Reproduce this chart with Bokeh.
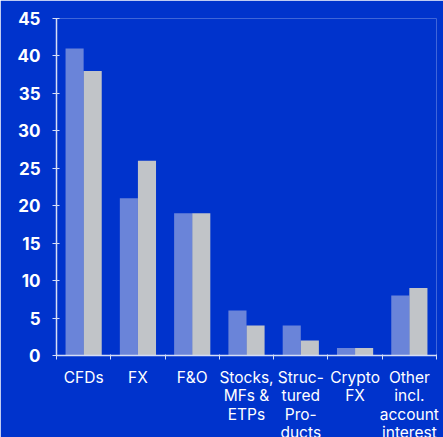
from bokeh.plotting import figure
from bokeh.models import FixedTicker, ColumnDataSource
from bokeh.embed import file_html
from bokeh.resources import INLINE

categories = ["CFDs", "FX", "F&O", "Stocks,\nMFs &\nETPs", "Struc-\ntured\nPro-\nducts",
              "Crypto\nFX", "Other\nincl.\naccount\ninterest"]
series_a = [41, 21, 19, 6, 4, 1, 8]
series_b = [38, 26, 19, 4, 2, 1, 9]
y_ticks = [0, 5, 10, 15, 20, 25, 30, 35, 40, 45]

BG = "#0033cc"
COL_A = "#6a84d9"
COL_B = "#c1c4c8"
AXIS = "#d6ddf5"

n = len(categories)
centers = [i + 0.5 for i in range(n)]
bounds = list(range(n + 1))

src = ColumnDataSource(dict(
    xa=[c - 1 / 6 for c in centers],
    xb=[c + 1 / 6 for c in centers],
    a=series_a,
    b=series_b,
))

p = figure(frame_width=380, frame_height=337, x_range=(0, n), y_range=(0, 45),
           output_backend="svg", toolbar_location=None,
           min_border_left=56, min_border_right=7, min_border_top=18, min_border_bottom=40)
p.background_fill_color = BG
p.border_fill_color = BG
p.outline_line_color = None
p.grid.visible = False

p.vbar(x="xa", top="a", width=1 / 3, source=src, color=COL_A, line_color=None)
p.vbar(x="xb", top="b", width=1 / 3, source=src, color=COL_B, line_color=None)

# y axis
ya = p.yaxis[0]
ya.ticker = FixedTicker(ticks=y_ticks, minor_ticks=[])
ya.axis_line_color = AXIS
ya.axis_line_width = 1.5
ya.major_tick_line_color = AXIS
ya.major_tick_in = 3
ya.major_tick_out = 4
ya.minor_tick_line_color = None
ya.major_label_text_color = "white"
ya.major_label_text_font = "Inter"
ya.major_label_text_font_style = "bold"
ya.major_label_text_font_size = "17px"
ya.major_label_standoff = 12

# x axis: labels at centres, ticks at category boundaries
xa = p.xaxis[0]
xa.ticker = FixedTicker(ticks=centers, minor_ticks=bounds)
xa.major_label_overrides = {c: lab for c, lab in zip(centers, categories)}
xa.axis_line_color = AXIS
xa.axis_line_width = 1.5
xa.major_tick_line_color = None
xa.minor_tick_line_color = AXIS
xa.minor_tick_in = 1
xa.minor_tick_out = 4
xa.major_label_text_color = "white"
xa.major_label_text_font = "Inter"
xa.major_label_text_font_size = "15.5px"
xa.major_label_text_line_height = 0.98
xa.major_label_standoff = 6

open("out.html", "w").write(file_html(p, INLINE))
